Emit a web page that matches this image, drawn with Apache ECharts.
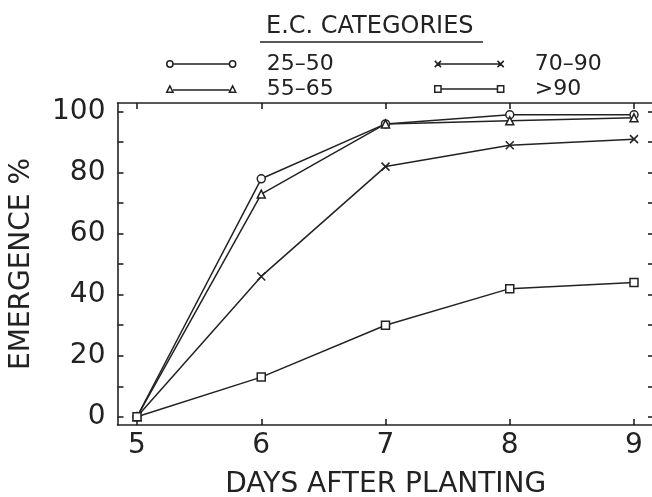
<!DOCTYPE html>
<html>
<head>
<meta charset="utf-8">
<script src="https://cdn.jsdelivr.net/npm/echarts@6/dist/echarts.min.js"></script>
<style>
  html, body { margin: 0; padding: 0; background: #fff; }
  #chart { width: 652px; height: 497px; }
</style>
</head>
<body>
<div id="chart"></div>
<script>
// days after planting
const days = [5, 6, 7, 8, 9];
// emergence % per E.C. category
const ec25_50 = [0, 78, 96, 99, 99];
const ec55_65 = [0, 73, 96, 97, 98];
const ec70_90 = [0, 46, 82, 89, 91];
const ecOver90 = [0, 13, 30, 42, 44];
const seriesNames = ['25–50', '55–65', '70–90', '>90'];
const yTicks = [0, 10, 20, 30, 40, 50, 60, 70, 80, 90, 100];
const yLabels = [0, 20, 40, 60, 80, 100];

const ink = '#222';
const font = 'DejaVu Sans';

const crossPath = 'path://M0 0 L10 10 M0 10 L10 0';
const legendIcons = {
    '25–50': 'path://M1 4 A3 3 0 1 1 7 4 A3 3 0 1 1 1 4 Z M7 4 L61 4 M61 4 A3 3 0 1 1 67 4 A3 3 0 1 1 61 4 Z',
    '55–65': 'path://M1 7 L4 1 L7 7 Z M7 5 L61 5 M61 7 L64 1 L67 7 Z',
    '70–90': 'path://M1 1 L7 7 M1 7 L7 1 M4 4 L64 4 M61 1 L67 7 M61 7 L67 1',
    '>90': 'path://M1 1 L7 1 L7 7 L1 7 Z M7 4 L61 4 M61 1 L67 1 L67 7 L61 7 Z'
};

function pairs(values) {
    return days.map((d, i) => [d, values[i]]);
}

function makeSeries(name, values, symbol) {
    return {
        name: name,
        type: 'line',
        data: pairs(values),
        symbol: symbol,
        symbolSize: 8,
        showAllSymbol: true,
        lineStyle: { color: ink, width: 1.5 },
        itemStyle: { color: '#fff', borderColor: ink, borderWidth: 1.5 },
        emphasis: { disabled: true },
        z: 3
    };
}

const chart = echarts.init(document.getElementById('chart'), null, { renderer: 'canvas' });

const axisLine = { show: true, onZero: false, lineStyle: { color: ink, width: 1.6 } };
const axisTick = (vals) => ({ show: true, inside: true, length: 6, customValues: vals, lineStyle: { color: ink, width: 1.6 } });

const legendCommon = {
    orient: 'vertical',
    itemWidth: 69,
    itemHeight: 8,
    itemGap: 3,
    padding: 0,
    top: 53,
    selectedMode: false,
    itemStyle: { borderWidth: 1.5 },
    textStyle: { fontFamily: font, fontSize: 22, color: ink, padding: [0, 0, 0, 26] }
};

const option = {
    animation: false,
    backgroundColor: '#fff',
    textStyle: { fontFamily: font },
    title: {
        text: 'E.C. CATEGORIES',
        left: 266,
        top: 15,
        padding: 0,
        textStyle: { fontFamily: font, fontSize: 24, fontWeight: 'normal', color: ink }
    },
    graphic: [{
        type: 'line',
        shape: { x1: 260, y1: 42, x2: 483, y2: 42 },
        style: { stroke: ink, lineWidth: 1.6 }
    }],
    legend: [
        Object.assign({}, legendCommon, {
            left: 166,
            data: seriesNames.slice(0, 2).map(n => ({ name: n, icon: legendIcons[n] }))
        }),
        Object.assign({}, legendCommon, {
            left: 434,
            data: seriesNames.slice(2).map(n => ({ name: n, icon: legendIcons[n] }))
        })
    ],
    grid: {
        left: 117.5, top: 103, width: 536.5, height: 322,
        outerBoundsMode: 'none'
    },
    xAxis: [{
        type: 'value',
        position: 'bottom',
        min: 4.843, max: 9.161,
        axisLine: axisLine,
        axisTick: axisTick(days),
        axisLabel: { customValues: days, fontSize: 28, color: ink, margin: 7, fontFamily: font },
        splitLine: { show: false },
        name: 'DAYS AFTER PLANTING',
        nameLocation: 'middle',
        nameGap: 46,
        nameTextStyle: { fontSize: 28, color: ink, fontFamily: font }
    }, {
        type: 'value',
        position: 'top',
        min: 4.843, max: 9.161,
        axisLine: axisLine,
        axisTick: axisTick(days),
        axisLabel: { show: false },
        splitLine: { show: false }
    }],
    yAxis: [{
        type: 'value',
        position: 'left',
        min: -2.7, max: 102.85,
        axisLine: axisLine,
        axisTick: axisTick(yTicks),
        axisLabel: { customValues: yLabels, fontSize: 28, color: ink, margin: 12, fontFamily: font },
        splitLine: { show: false },
        name: 'EMERGENCE %',
        nameLocation: 'middle',
        nameGap: 82,
        nameTextStyle: { fontSize: 28, color: ink, fontFamily: font }
    }, {
        type: 'value',
        position: 'right',
        min: -2.7, max: 102.85,
        axisLine: axisLine,
        axisTick: axisTick(yTicks),
        axisLabel: { show: false },
        splitLine: { show: false }
    }],
    series: [
        makeSeries(seriesNames[0], ec25_50, 'circle'),
        makeSeries(seriesNames[1], ec55_65, 'triangle'),
        makeSeries(seriesNames[2], ec70_90, crossPath),
        makeSeries(seriesNames[3], ecOver90, 'rect')
    ]
};

chart.setOption(option);
window.addEventListener('resize', chart.resize);
</script>
</body>
</html>
